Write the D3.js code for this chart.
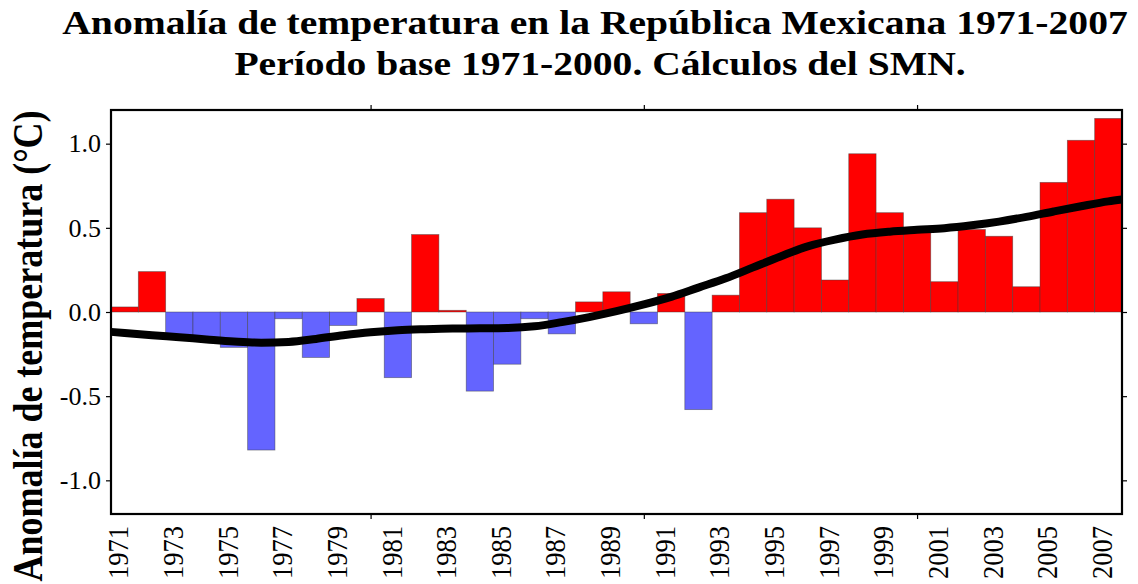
<!DOCTYPE html>
<html>
<head>
<meta charset="utf-8">
<script src="https://cdn.jsdelivr.net/npm/d3@7"></script>
<style>
  body { margin: 0; background: #fff; }
  text { font-family: "Liberation Serif", "Times New Roman", serif; fill: #000; }
</style>
</head>
<body>
<div id="chart"></div>
<script>
let svgWidth = 1138;
let svgHeight = 584;
let margin = { top: 110, right: 16, bottom: 70, left: 111 };
let width = svgWidth - margin.left - margin.right;
let height = svgHeight - margin.top - margin.bottom;

// Data ==========================
let years = d3.range(1971, 2008);
let anomalies = [
  0.03, 0.24, -0.14, -0.16, -0.21, -0.82, -0.04, -0.27, -0.08, 0.08,
  -0.39, 0.46, 0.01, -0.47, -0.31, -0.04, -0.13, 0.06, 0.12, -0.07,
  0.11, -0.58, 0.10, 0.59, 0.67, 0.50, 0.19, 0.94, 0.59, 0.49,
  0.18, 0.49, 0.45, 0.15, 0.77, 1.02, 1.15
];
// smoothed curve, read at plot edges and every year
let smoothYears = [1970.5].concat(years, [2007.5]);
let smoothValues = [
  -0.118,
  -0.125, -0.138, -0.15, -0.163, -0.175, -0.182, -0.178, -0.16, -0.138, -0.12,
  -0.108, -0.102, -0.098, -0.097, -0.095, -0.085, -0.06, -0.03, 0.005, 0.045,
  0.09, 0.145, 0.2, 0.265, 0.33, 0.39, 0.43, 0.46, 0.477, 0.488,
  0.498, 0.515, 0.537, 0.565, 0.597, 0.628, 0.657,
  0.668
];
let yTicks = [-1.0, -0.5, 0.0, 0.5, 1.0];
let xTickYears = years.filter(y => (y - 1971) % 2 === 0);
let minorTicks = [1980, 1990, 2000];
let titleLines = [
  "Anomalía de temperatura en la República Mexicana 1971-2007",
  "Período base 1971-2000. Cálculos del SMN."
];
let yTitle = "Anomalía de temperatura (°C)";

let data = years.map((y, i) => ({ year: y, value: anomalies[i] }));
let smooth = smoothYears.map((y, i) => ({ year: y, value: smoothValues[i] }));

// Chart =========================
let svg = d3.select("#chart").append("svg")
  .attr("width", svgWidth).attr("height", svgHeight);
let chartGroup = svg.append("g")
  .attr("transform", `translate(${margin.left}, ${margin.top})`);

let x = d3.scaleBand().domain(years).range([0, width]).padding(0);
let xLin = d3.scaleLinear().domain([1970.5, 2007.5]).range([0, width]);
let y = d3.scaleLinear().domain([-1.2, 1.2]).range([height, 0]);

// bars
chartGroup.selectAll("rect.bar")
  .data(data)
  .enter()
  .append("rect")
  .classed("bar", true)
  .attr("x", d => x(d.year))
  .attr("width", x.bandwidth())
  .attr("y", d => y(Math.max(0, d.value)))
  .attr("height", d => Math.abs(y(d.value) - y(0)))
  .attr("fill", d => d.value >= 0 ? "#ff0000" : "#6464ff")
  .attr("stroke", "#3a3a3a")
  .attr("stroke-opacity", 0.55)
  .attr("stroke-width", 0.8);

// smooth curve
let line = d3.line()
  .x(d => xLin(d.year))
  .y(d => y(d.value))
  .curve(d3.curveMonotoneX);

chartGroup.append("path")
  .datum(smooth)
  .attr("d", line)
  .attr("fill", "none")
  .attr("stroke", "#000")
  .attr("stroke-width", 8)
  .attr("stroke-linecap", "butt");

// axes
let fmt = v => d3.format(".1f")(v).replace("\u2212", "-");
let yAxisLeft = chartGroup.append("g")
  .call(d3.axisLeft(y).tickValues(yTicks).tickSize(5).tickPadding(5).tickFormat(fmt));
let yAxisRight = chartGroup.append("g")
  .attr("transform", `translate(${width}, 0)`)
  .call(d3.axisRight(y).tickValues(yTicks).tickSize(5).tickFormat(""));
let xAxisTop = chartGroup.append("g")
  .call(d3.axisTop(xLin).tickValues(minorTicks).tickSize(5).tickFormat(""));
let xAxisBottom = chartGroup.append("g")
  .attr("transform", `translate(0, ${height})`)
  .call(d3.axisBottom(xLin).tickValues(minorTicks).tickSize(5).tickFormat(""));

[yAxisLeft, yAxisRight, xAxisTop, xAxisBottom].forEach(a => {
  a.select(".domain").remove();
  a.selectAll("line").attr("stroke", "#000").attr("stroke-width", 1.2);
});

yAxisLeft.selectAll("text")
  .style("font-family", "'Liberation Serif', serif")
  .style("font-size", "26px")
  .attr("fill", "#000");

// frame
chartGroup.append("rect")
  .attr("x", 0).attr("y", 0)
  .attr("width", width).attr("height", height)
  .attr("fill", "none")
  .attr("stroke", "#000")
  .attr("stroke-width", 2.2);

// x labels, rotated
chartGroup.append("g")
  .selectAll("text")
  .data(xTickYears)
  .enter()
  .append("text")
  .attr("transform", d => `translate(${x(d) + x.bandwidth() / 2 - 6}, ${height + 12}) scale(1.1, 1) rotate(-90)`)
  .attr("text-anchor", "end")
  .attr("dy", "0.33em")
  .style("font-size", "26.5px")
  .text(d => d);

// y title
svg.append("text")
  .attr("transform", `translate(42, 346) scale(1.2, 1) rotate(-90)`)
  .attr("text-anchor", "middle")
  .style("font-size", "36px")
  .style("font-weight", "bold")
  .text(yTitle);

// title
svg.append("g")
  .selectAll("text")
  .data(titleLines)
  .enter()
  .append("text")
  .attr("transform", (d, i) => `translate(${i === 0 ? 595 : 600}, ${i === 0 ? 34 : 75}) scale(1.2, 1)`)
  .attr("text-anchor", "middle")
  .style("font-size", "33px")
  .style("font-weight", "bold")
  .text(d => d);
</script>
</body>
</html>
